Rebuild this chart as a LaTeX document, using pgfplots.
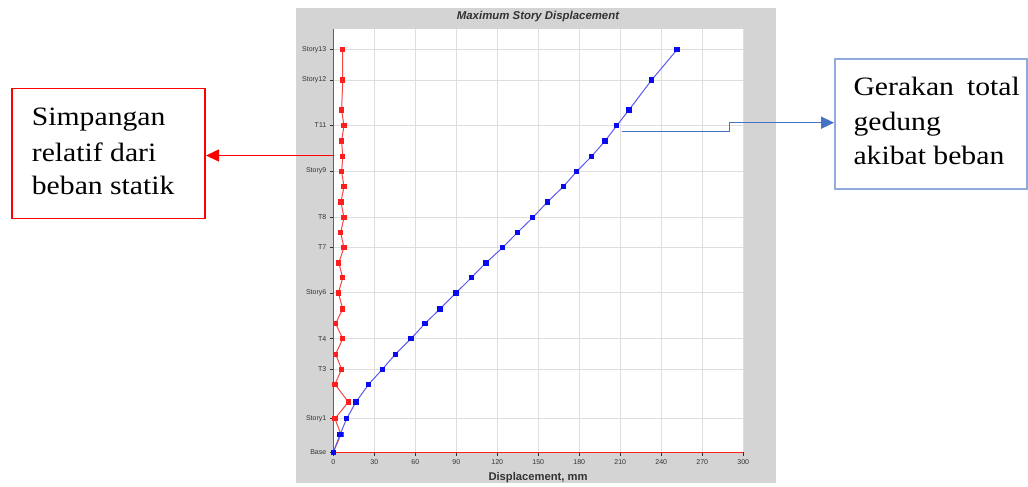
\documentclass[border=0pt]{standalone}
\usepackage{pgfplots}
\pgfplotsset{compat=1.18}
\usepackage{fontspec}
\setmainfont{Liberation Sans}
\newfontfamily\boxfont[FakeStretch=1.12]{Liberation Serif}
\usetikzlibrary{arrows.meta}
\definecolor{panelgray}{RGB}{212,212,212}
\definecolor{gridgray}{RGB}{222,222,222}
\definecolor{storyred}{RGB}{255,30,30}
\definecolor{linered}{RGB}{245,70,70}
\definecolor{ptblue}{RGB}{10,10,240}
\definecolor{lineblue}{RGB}{90,90,240}
\definecolor{arrowblue}{RGB}{68,114,196}
\definecolor{boxblue}{RGB}{143,170,220}
\definecolor{labgray}{RGB}{50,50,50}

\begin{document}
\begin{tikzpicture}[x=1pt,y=1pt]
\fill[white] (0,0) rectangle (1028,483);
\fill[panelgray] (296,0) rectangle (776,474.7);

\begin{axis}[
    at={(333.3pt,30.7pt)}, anchor=south west,
    scale only axis, width=410pt, height=423pt,
    xmin=0, xmax=300, ymin=0, ymax=422.7,
    xtick={0,30,...,300},
    ytick={0,33.7,83,113.5,159.3,205,234.6,281,327,372,402.7},
    yticklabels={Base,Story1,T3,T4,Story6,T7,T8,Story9,T11,Story12,Story13},
    axis background/.style={fill=white},
    axis x line*=bottom, axis y line*=left,
    axis line style={storyred, line width=1.3pt},
    grid=major, grid style={gridgray, line width=0.9pt},
    tick align=outside, major tick length=3.5pt,
    every tick/.style={labgray, line width=0.6pt},
    ticklabel style={font=\fontsize{7}{8}\selectfont, text=labgray},
    /pgf/number format/assume math mode=true,
    clip=false,
]
% static relative displacement (red)
\addplot[linered, line width=1pt, mark=square*, mark size=2.2pt,
    mark options={storyred, fill=storyred}] coordinates {
 (0,0) (5.6,17.7) (1.2,33.7) (11,50.3) (1.2,68) (6.1,83) (1.7,98) (6.9,113.5)
 (1.7,128.7) (6.9,143.3) (3.7,159.3) (6.9,174.5) (4.0,189.3) (7.8,204.5)
 (5.4,219.5) (7.8,234.5) (5.6,250.3) (7.8,265.5) (6.1,280.5) (6.9,295.5)
 (6.1,311) (7.8,326.3) (6.1,342) (6.9,372) (6.9,402.5)};
% total displacement (blue)
\addplot[lineblue, line width=1pt, mark=square*, mark size=2.2pt,
    mark options={ptblue, fill=ptblue}] coordinates {
 (0,0) (4.9,17.7) (9.8,33.7) (16.6,50.3) (25.9,68) (35.9,83) (45.4,98)
 (56.8,113.5) (67.1,128.7) (78.1,143.3) (89.8,159.3) (101,174.5) (111.6,189.3)
 (123.9,204.5) (134.6,219.5) (145.9,234.5) (156.8,250.3) (168.3,265.5)
 (178,280.5) (188.8,295.5) (198.8,311) (207.3,326.3) (216.3,342) (232.9,372)
 (251.6,402.5)};
\end{axis}

\node[font=\bfseries\itshape\fontsize{11.4}{13}\selectfont, text=labgray] at (538,466) {Maximum Story Displacement};
\node[font=\bfseries\fontsize{11.2}{13}\selectfont, text=labgray] at (538,5) {Displacement, mm};

% left annotation
\draw[red, line width=1.5pt, -{Triangle[length=13pt,width=12pt]}] (334,327.5) -- (206,327.5);
\draw[red, line width=1.6pt] (12,394.7) rectangle (204.7,264.7);
\begin{scope}[every node/.style={anchor=base west, inner sep=0pt, font=\boxfont\fontsize{26.5}{30}\selectfont}]
\node at (31.7,357.3) {Simpangan};
\node at (31.7,322) {relatif dari};
\node at (31.7,288.7) {beban statik};
\end{scope}

% right annotation
\draw[arrowblue, line width=1.5pt, -{Triangle[length=13pt,width=12pt]}] (621.7,351.3) -- (729.3,351.3) -- (729.3,360.3) -- (834,360.3);
\draw[boxblue, line width=1.6pt] (835,424) rectangle (1027,294);
\begin{scope}[every node/.style={inner sep=0pt, font=\boxfont\fontsize{26.5}{30}\selectfont}]
\node[anchor=base west] at (853.3,387.5) {Gerakan};
\node[anchor=base east] at (1020,387.5) {total};
\node[anchor=base west] at (853.3,353) {gedung};
\node[anchor=base west] at (853.3,318.7) {akibat beban};
\end{scope}
\end{tikzpicture}
\end{document}
